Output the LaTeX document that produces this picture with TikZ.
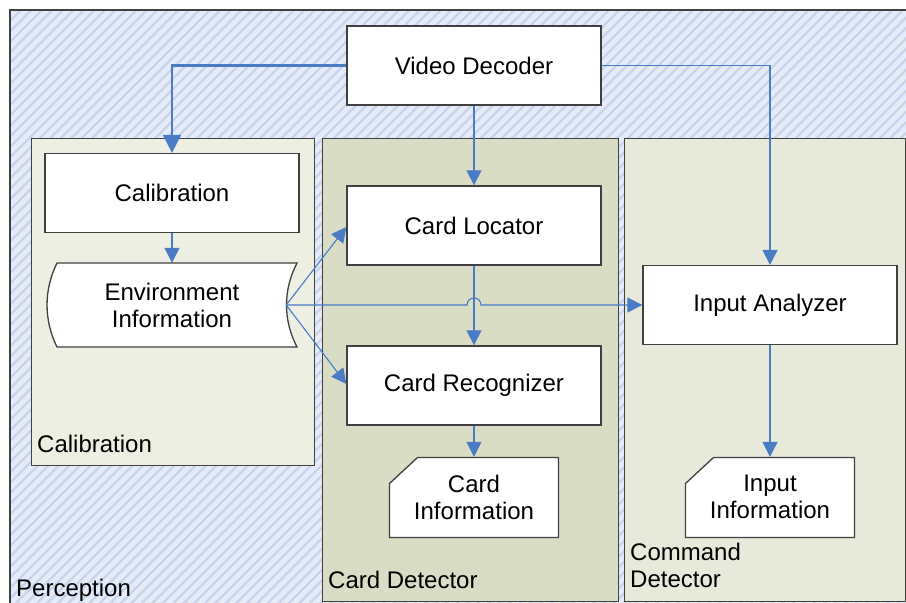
\documentclass[tikz,border=0pt]{standalone}
\usepackage{fontspec}
\setmainfont{Liberation Sans}
\usetikzlibrary{arrows.meta,calc}

\definecolor{percbg}{HTML}{E5EBF7}
\definecolor{perchatch}{HTML}{C8D4EB}
\definecolor{calibfill}{HTML}{EEEFE3}
\definecolor{cardfill}{HTML}{D9DDC5}
\definecolor{cmdfill}{HTML}{E7EADB}
\definecolor{edge}{HTML}{404040}
\definecolor{flow}{HTML}{4A7CC6}

\begin{document}
\begin{tikzpicture}[x=1pt,y=-1pt,
  font=\fontsize{24}{27}\selectfont,
  group/.style={draw=edge, line width=1.3pt, inner sep=0pt, anchor=north west},
  procbox/.style={draw=edge, line width=1.3pt, fill=white, minimum width=254pt,
    minimum height=79pt, inner sep=0pt, align=center},
  textonly/.style={inner sep=0pt, align=center},
  outline/.style={draw=edge, line width=1.3pt, fill=white},
  grouplabel/.style={anchor=base west, inner sep=0pt, align=left},
  flowline/.style={draw=flow, line width=1.1pt, -{Triangle[length=15pt,width=15pt]}},
  flowthick/.style={draw=flow, line width=2.2pt, -{Triangle[length=18pt,width=18pt]}}
]
\clip (0,0) rectangle (906,603);
\fill[white] (0,0) rectangle (906,603);

% Perception area: pale blue with diagonal hatching
\fill[percbg] (10,10) rectangle (906,603);
\begin{scope}
  \clip (10,10) rectangle (906,603);
  \foreach \k in {0,...,145}
    \draw[perchatch, line width=2.2pt] ({-600+10.5*\k},610) -- ++(610,-610);
\end{scope}
\draw[edge, line width=1.3pt] (10,10) rectangle (920,620);

% Subsystem containers
\node[group, fill=calibfill, minimum width=283pt, minimum height=327pt] (calibgrp) at (31,138) {};
\node[group, fill=cardfill, minimum width=296pt, minimum height=463pt] (cardgrp) at (322,138) {};
\node[group, fill=cmdfill, minimum width=281pt, minimum height=463pt] (cmdgrp) at (624,138) {};

% Processes
\node[procbox] (vd) at (474,65.5) {Video Decoder};
\node[procbox] (calib) at (172,193) {Calibration};
\node[procbox] (loc) at (474,225.5) {Card Locator};
\node[procbox] (rec) at (474,385.5) {Card Recognizer};
\node[procbox] (ia) at (770,305) {Input Analyzer};

% Stored data: environment information
\draw[outline] (57,263) -- (297,263)
  .. controls (283,290) and (283,320) .. (297,347) -- (57,347)
  .. controls (43.7,320) and (43.7,290) .. (57,263) -- cycle;
\node[textonly, minimum width=228pt, minimum height=84pt] (env) at (172,305) {Environment\\Information};

% Output data with a cut corner
\draw[outline] (417.5,457.5) -- (558.5,457.5) -- (558.5,537.5) -- (389.5,537.5) -- (389.5,483.5) -- cycle;
\node[textonly, minimum width=169pt, minimum height=80pt] (cardinfo) at (474,497) {Card\\Information};
\draw[outline] (713.5,457.5) -- (854.5,457.5) -- (854.5,537.5) -- (685.5,537.5) -- (685.5,483.5) -- cycle;
\node[textonly, minimum width=169pt, minimum height=80pt] (inputinfo) at (770,497) {Input\\Information};

% Container labels (base anchor sits on the last line)
\node[grouplabel] (perclabel) at (16,596) {Perception};
\node[grouplabel] (caliblabel) at (37,452) {Calibration};
\node[grouplabel] (cardlabel) at (328,588) {Card Detector};
\node[grouplabel] (cmdlabel) at (630,587) {Command\\Detector};

% Data flow
\draw[flowthick] (vd.west) -| (calib.north);
\draw[flowline] (vd.east) -| (ia.north);
\draw[flowline] (vd.south) -- (loc.north);
\draw[flowline] (calib.south) -- (env.north);
\draw[flowline] (env.east) -- ([yshift=-1.5pt]loc.west);
\draw[flowline] (env.east) -- ([yshift=1.5pt]rec.west);
\draw[flowline] (loc.south) -- (rec.north);
\draw[flowline] (env.east) -- (467,305) .. controls (467,295.7) and (481,295.7) .. (481,305) -- (ia.west);
\draw[flowline] (rec.south) -- (cardinfo.north);
\draw[flowline] (ia.south) -- (inputinfo.north);
\end{tikzpicture}
\end{document}
